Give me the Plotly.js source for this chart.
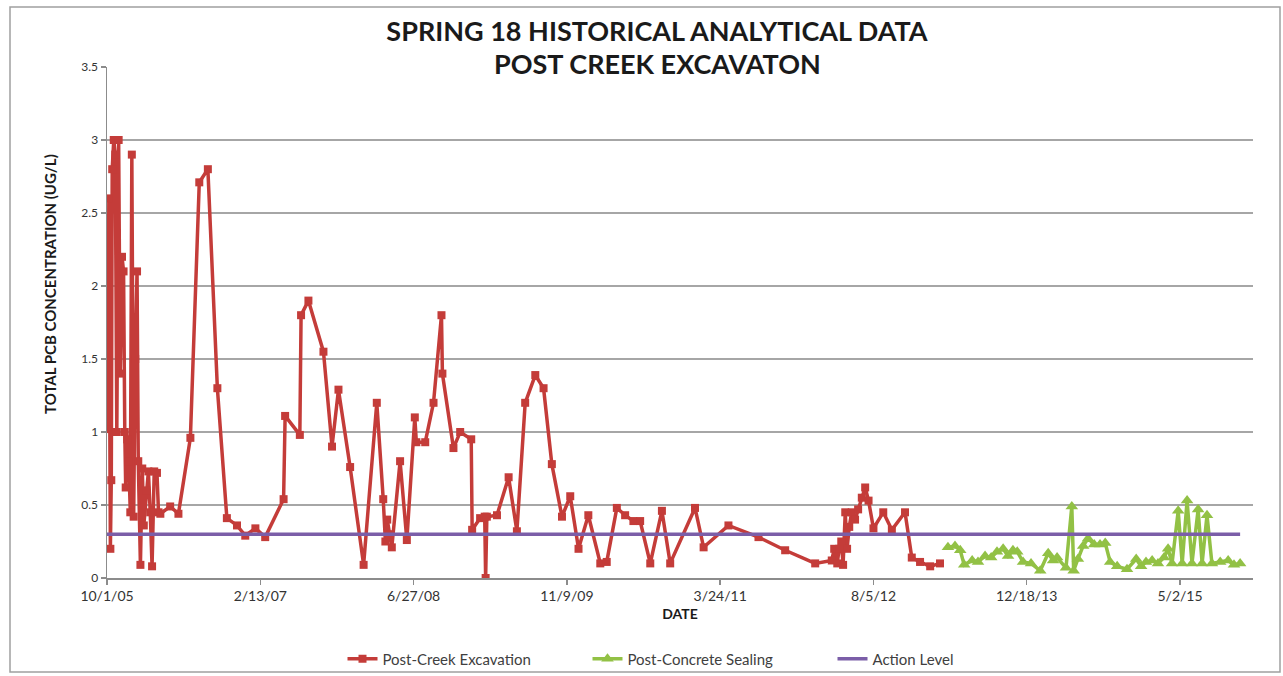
<!DOCTYPE html>
<html>
<head>
<meta charset="utf-8">
<script src="https://cdn.plot.ly/plotly-3.0.1.min.js"></script>
<style>
  html, body { margin: 0; padding: 0; background: #ffffff; }
  #chart { width: 1283px; height: 676px; }
</style>
</head>
<body>
<div id="chart"></div>
<script>
// ---- Data ----
const postCreekDates = [
  '2005-10-04','2005-10-07','2005-10-12','2005-10-15','2005-10-18','2005-10-23','2005-10-28','2005-11-02',
  '2005-11-08','2005-11-13','2005-11-19','2005-11-24','2005-11-28','2005-12-01','2005-12-06','2005-12-11',
  '2005-12-16','2005-12-21','2005-12-27','2006-01-01','2006-01-07','2006-01-11','2006-01-18','2006-01-24',
  '2006-01-29','2006-02-06','2006-02-13','2006-02-19','2006-02-25','2006-03-04','2006-03-13','2006-03-18',
  '2006-03-24','2006-04-25','2006-05-22','2006-06-30','2006-07-29','2006-08-26','2006-09-26','2006-10-27',
  '2006-11-29','2006-12-26','2007-01-28','2007-03-01','2007-04-30','2007-05-05','2007-06-22','2007-06-26',
  '2007-07-20','2007-09-07','2007-10-05','2007-10-26','2007-12-03','2008-01-16','2008-02-28','2008-03-20',
  '2008-03-27','2008-04-02','2008-04-09','2008-04-17','2008-05-14','2008-06-05','2008-07-01','2008-07-06',
  '2008-08-04','2008-08-31','2008-09-26','2008-09-29','2008-11-04','2008-11-26','2009-01-01','2009-01-04',
  '2009-01-30','2009-02-14','2009-02-17','2009-02-21','2009-03-26','2009-05-03','2009-05-30','2009-06-26',
  '2009-07-29','2009-08-25','2009-09-21','2009-10-24','2009-11-20','2009-12-17','2010-01-18','2010-02-26',
  '2010-03-19','2010-04-21','2010-05-18','2010-06-14','2010-07-06','2010-08-08','2010-09-15','2010-10-12',
  '2011-01-01','2011-01-29','2011-04-20','2011-07-27','2011-10-22','2012-01-28','2012-03-22','2012-03-30',
  '2012-04-09','2012-04-15','2012-04-22','2012-04-28','2012-05-05','2012-05-11','2012-05-18','2012-05-26',
  '2012-06-06','2012-06-16','2012-06-28','2012-07-09','2012-07-20','2012-08-05','2012-09-06','2012-10-04',
  '2012-11-16','2012-12-08','2013-01-04','2013-02-06','2013-03-10'
];
const postCreekValues = [
  1.02, 2.60, 0.20, 0.67, 2.80, 3.00, 2.90, 1.00,
  3.00, 1.40, 2.20, 2.10, 1.00, 0.62, 0.95, 0.80,
  0.45, 2.90, 0.42, 1.50, 2.10, 0.80, 0.09, 0.75,
  0.36, 0.60, 0.73, 0.45, 0.08, 0.73, 0.72, 0.45,
  0.44, 0.49, 0.44, 0.96, 2.71, 2.80, 1.30, 0.41,
  0.36, 0.29, 0.34, 0.28, 0.54, 1.11, 0.98, 1.80,
  1.90, 1.55, 0.90, 1.29, 0.76, 0.09, 1.20, 0.54,
  0.25, 0.40, 0.30, 0.21, 0.80, 0.26, 1.10, 0.93,
  0.93, 1.20, 1.80, 1.40, 0.89, 1.00, 0.95, 0.33,
  0.41, 0.42, 0.00, 0.42, 0.43, 0.69, 0.32, 1.20,
  1.39, 1.30, 0.78, 0.42, 0.56, 0.20, 0.43, 0.10,
  0.11, 0.48, 0.43, 0.39, 0.39, 0.10, 0.46, 0.10,
  0.48, 0.21, 0.36, 0.28, 0.19, 0.10, 0.12, 0.20,
  0.10, 0.20, 0.25, 0.09, 0.45, 0.20, 0.35, 0.45,
  0.40, 0.47, 0.55, 0.62, 0.53, 0.34, 0.45, 0.33,
  0.45, 0.14, 0.11, 0.08, 0.10
];

const postSealingDates = [
  '2013-04-05','2013-04-28','2013-05-15','2013-05-28','2013-06-23','2013-07-12','2013-08-04','2013-08-24',
  '2013-09-12','2013-10-02','2013-10-18','2013-11-03','2013-11-17','2013-12-06','2014-01-01','2014-01-31',
  '2014-02-26','2014-03-14','2014-03-27','2014-04-25','2014-05-14','2014-05-20','2014-06-03','2014-06-20',
  '2014-07-06','2014-07-26','2014-08-14','2014-08-31','2014-09-16','2014-10-09','2014-11-10','2014-12-10',
  '2014-12-26','2015-01-11','2015-01-31','2015-02-19','2015-03-11','2015-03-24','2015-04-06','2015-04-26',
  '2015-05-09','2015-05-25','2015-06-10','2015-06-30','2015-07-13','2015-07-29','2015-08-14','2015-09-10',
  '2015-10-06','2015-10-25','2015-11-14'
];
const postSealingValues = [
  0.21, 0.22, 0.19, 0.09, 0.12, 0.11, 0.15, 0.14,
  0.18, 0.20, 0.15, 0.19, 0.18, 0.11, 0.10, 0.05,
  0.17, 0.12, 0.14, 0.07, 0.49, 0.05, 0.13, 0.22,
  0.27, 0.23, 0.23, 0.24, 0.11, 0.08, 0.06, 0.13,
  0.08, 0.11, 0.12, 0.10, 0.14, 0.20, 0.10, 0.46,
  0.10, 0.53, 0.10, 0.47, 0.10, 0.43, 0.10, 0.11,
  0.12, 0.09, 0.10
];

const actionDates = ['2005-10-01', '2015-11-14'];
const actionValues = [0.3, 0.3];

const xTickDates = ['2005-10-01','2007-02-13','2008-06-27','2009-11-09','2011-03-24','2012-08-05','2013-12-18','2015-05-02'];
const xTickLabels = ['10/1/05','2/13/07','6/27/08','11/9/09','3/24/11','8/5/12','12/18/13','5/2/15'];
const xRange = ['2005-10-01', '2015-12-26'];
const yTickValues = [0, 0.5, 1, 1.5, 2, 2.5, 3, 3.5];
const yTickLabels = ['0', '0.5', '1', '1.5', '2', '2.5', '3', '3.5'];

const titleLine1 = 'SPRING 18 HISTORICAL ANALYTICAL DATA';
const titleLine2 = 'POST CREEK EXCAVATON';

// ---- Styles ----
const RED = '#c43c39';
const GREEN = '#92c145';
const PURPLE = '#7b5ea8';
const FONT = 'Lato, "Open Sans", sans-serif';

const traces = [
  {
    name: 'Post-Creek Excavation',
    x: postCreekDates, y: postCreekValues,
    type: 'scatter', mode: 'lines+markers',
    line: { color: RED, width: 3.5 },
    marker: { symbol: 'square', size: 8, color: RED }
  },
  {
    name: 'Post-Concrete Sealing',
    x: postSealingDates, y: postSealingValues,
    type: 'scatter', mode: 'lines+markers',
    line: { color: GREEN, width: 3.5 },
    marker: { symbol: 'triangle-up', size: 11, color: GREEN }
  },
  {
    name: 'Action Level',
    x: actionDates, y: actionValues,
    type: 'scatter', mode: 'lines',
    line: { color: PURPLE, width: 3.5 }
  }
];

// plot-area pixel geometry -> paper / container helpers
const L = 107, R = 30, T = 67, B = 98, W = 1283, H = 676;
const pw = W - L - R, ph = H - T - B;
const px = v => (v - L) / pw;
const py = v => (H - B - v) / ph;

const layout = {
  width: W, height: H,
  margin: { l: L, r: R, t: T, b: B, pad: 0, autoexpand: false },
  paper_bgcolor: '#ffffff',
  plot_bgcolor: '#ffffff',
  font: { family: FONT, color: '#404040', size: 13 },
  title: {
    text: titleLine1,
    font: { family: FONT, size: 27, color: '#1a1a1a', weight: 'bold' },
    x: 657 / W, xanchor: 'center',
    yref: 'container', y: 1 - 32 / H, yanchor: 'middle'
  },
  showlegend: true,
  legend: {
    orientation: 'h',
    xref: 'container', yref: 'container',
    x: 710 / W, xanchor: 'center',
    y: 1 - 659 / H, yanchor: 'middle',
    font: { family: FONT, size: 15, color: '#404040' },
    bgcolor: 'rgba(0,0,0,0)',
    traceorder: 'normal',
    entrywidth: 200,
    entrywidthmode: 'pixels'
  },
  xaxis: {
    type: 'date',
    range: xRange,
    tickmode: 'array',
    tickvals: xTickDates,
    ticktext: xTickLabels,
    ticks: 'outside', ticklen: 5, tickcolor: '#8c8c8c', tickwidth: 1.5,
    ticklabelstandoff: 0,
    showgrid: false,
    showline: true, linecolor: '#8c8c8c', linewidth: 1.5,
    zeroline: false,
    tickfont: { family: FONT, size: 14, color: '#333333' },
    title: { text: 'DATE', font: { family: FONT, size: 14, color: '#1a1a1a', weight: 'bold' }, standoff: 6 }
  },
  yaxis: {
    range: [0, 3.5],
    tickmode: 'array',
    tickvals: yTickValues,
    ticktext: yTickLabels,
    ticks: 'outside', ticklen: 5, tickcolor: '#8c8c8c', tickwidth: 1.5,
    showgrid: true, gridcolor: '#a6a6a6', gridwidth: 1.5,
    showline: true, linecolor: '#8c8c8c', linewidth: 1.5,
    zeroline: false,
    tickfont: { family: FONT, size: 12, color: '#333333' }
  },
  annotations: [
    {
      text: titleLine2,
      xref: 'paper', yref: 'paper',
      x: px(657), y: py(63),
      xanchor: 'center', yanchor: 'middle',
      showarrow: false,
      font: { family: FONT, size: 27, color: '#1a1a1a', weight: 'bold' }
    },
    {
      text: 'TOTAL PCB CONCENTRATION (UG/L)',
      textangle: -90,
      xref: 'paper', yref: 'paper',
      x: px(50), y: py(284),
      xanchor: 'center', yanchor: 'middle',
      showarrow: false,
      font: { family: FONT, size: 15, color: '#1a1a1a', weight: 'bold' }
    }
  ],
  shapes: [
    {
      type: 'rect', xref: 'paper', yref: 'paper',
      x0: px(10), x1: px(1280), y0: py(672), y1: py(7),
      line: { color: '#a0a0a0', width: 1.5 },
      fillcolor: 'rgba(0,0,0,0)',
      layer: 'below'
    }
  ]
};

Plotly.newPlot('chart', traces, layout, { displayModeBar: false, staticPlot: true });
</script>
</body>
</html>
